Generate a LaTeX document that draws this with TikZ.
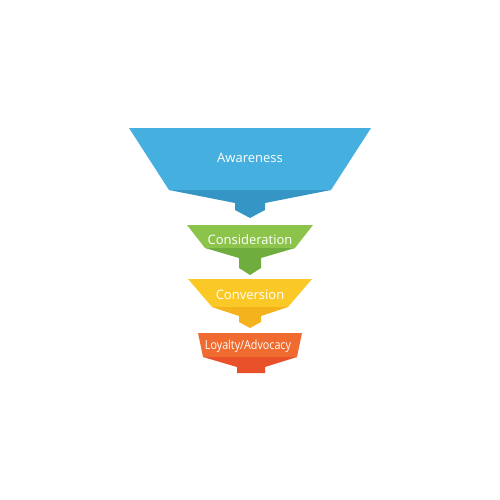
\documentclass[tikz,border=0pt]{standalone}
\usepackage{fontspec}
\setmainfont{Open Sans}
\definecolor{bluel}{HTML}{45AFDF}
\definecolor{blued}{HTML}{3596C6}
\definecolor{greenl}{HTML}{8CC44B}
\definecolor{greend}{HTML}{6FAE3E}
\definecolor{yell}{HTML}{FAC928}
\definecolor{yeld}{HTML}{F4B21C}
\definecolor{orl}{HTML}{EF6B2F}
\definecolor{ord}{HTML}{E8512A}
\begin{document}
\begin{tikzpicture}[x=1pt,y=-1pt,
  lbl/.style={text=white,font=\fontsize{13}{15}\selectfont,inner sep=0pt}]
\useasboundingbox (0,0) rectangle (500,500);
% Awareness
\fill[bluel] (129,128) -- (371,128) -- (331,190) -- (169,190) -- cycle;
\fill[blued] (169,190) -- (331,190) -- (265,203) -- (265,210) -- (250,218) -- (235,210) -- (235,203) -- cycle;
\node[lbl] (aw) at (250,158) {Awareness};
% Consideration
\fill[greenl] (187,225) -- (313,225) -- (295,248) -- (205,248) -- cycle;
\fill[greend] (205,248) -- (295,248) -- (261,258) -- (261,268) -- (250,275) -- (239,268) -- (239,258) -- cycle;
\node[lbl] (co) at (250,240) {Consideration};
% Conversion
\fill[yell] (188,279) -- (312,279) -- (288,307) -- (212,307) -- cycle;
\fill[yeld] (212,307) -- (288,307) -- (261,316) -- (261,322) -- (250,328) -- (239,322) -- (239,316) -- cycle;
\node[lbl] (cv) at (250,295) {Conversion};
% Loyalty
\fill[orl] (198,333) -- (302,333) -- (297,357) -- (203,357) -- cycle;
\fill[ord] (203,357) -- (297,357) -- (265,367) -- (265,373) -- (237,373) -- (237,367) -- cycle;
\node[lbl,font=\fontsize{12.5}{14}\selectfont] (lo) at (248,346) {\scalebox{0.86}[1]{Loyalty/Advocacy}};
\end{tikzpicture}
\end{document}
